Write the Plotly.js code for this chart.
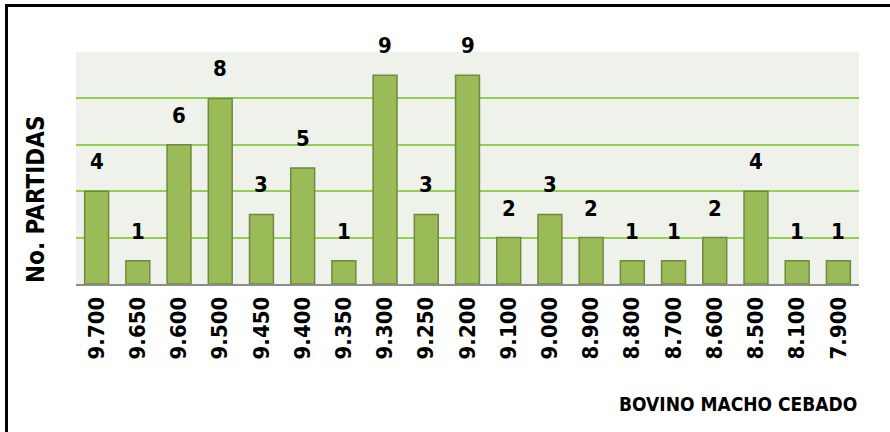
<!DOCTYPE html>
<html>
<head>
<meta charset="utf-8">
<script src="https://cdn.plot.ly/plotly-3.0.1.min.js"></script>
<style>
  html, body { margin: 0; padding: 0; background: #fff; overflow: hidden; }
  #wrap { position: relative; width: 890px; height: 432px; overflow: hidden; }
  #chart { width: 890px; height: 432px; }
  #frame { position: absolute; left: 5px; top: 4px; width: 900px; height: 440px;
           border-top: 3px solid #000; border-left: 3px solid #000; pointer-events: none; }
</style>
</head>
<body>
<div id="wrap">
  <div id="chart"></div>
  <div id="frame"></div>
</div>
<script>
const categories = ["9.700","9.650","9.600","9.500","9.450","9.400","9.350","9.300","9.250","9.200","9.100","9.000","8.900","8.800","8.700","8.600","8.500","8.100","7.900"];
const values = [4,1,6,8,3,5,1,9,3,9,2,3,2,1,1,2,4,1,1];
const yTitle = "No. PARTIDAS";
const xTitle = "BOVINO MACHO CEBADO";

const FONT = "'DejaVu Sans Condensed', 'Liberation Sans Narrow', sans-serif";

const trace = {
  type: "bar",
  x: categories,
  y: values,
  marker: { color: "#9BBB59", line: { color: "#71893F", width: 1.5 } },
  hoverinfo: "none"
};

const labelAnn = categories.map((c, i) => ({
  x: i, y: values[i], xref: "x", yref: "y",
  text: String(values[i]), showarrow: false,
  yanchor: "bottom", yshift: 15,
  font: { family: FONT, size: 22, color: "#000", weight: "bold" }
}));

const layout = {
  width: 890, height: 432,
  margin: { l: 76, r: 31, t: 52, b: 148 },
  paper_bgcolor: "#ffffff",
  plot_bgcolor: "#EFF2EA",
  bargap: 0.42,
  showlegend: false,
  font: { family: FONT, color: "#000" },
  xaxis: {
    type: "category",
    tickangle: -90,
    tickfont: { family: FONT, size: 22, color: "#000", weight: "bold" },
    ticks: "outside", ticklen: 0, tickcolor: "rgba(0,0,0,0)",
    ticklabelstandoff: 2,
    showline: true, linecolor: "#8C8C8C", linewidth: 2,
    showgrid: false, automargin: false
  },
  yaxis: {
    range: [0, 10], dtick: 2,
    showticklabels: false,
    showgrid: true, gridcolor: "#92D050", gridwidth: 2,
    zeroline: false, showline: false, automargin: false
  },
  annotations: labelAnn.concat([
    { xref: "paper", yref: "paper", x: (36 - 76) / 783, y: (284 - 200) / 232,
      text: yTitle, showarrow: false, textangle: -90, xanchor: "center", yanchor: "middle",
      font: { family: FONT, size: 24, color: "#000", weight: "bold" } },
    { xref: "paper", yref: "paper", x: 1, y: -(404 - 284) / 232,
      text: xTitle, showarrow: false, xanchor: "right", yanchor: "middle",
      font: { family: FONT, size: 19, color: "#000", weight: "bold" } }
  ])
};

Plotly.newPlot("chart", [trace], layout, { displayModeBar: false, staticPlot: true });
</script>
</body>
</html>
